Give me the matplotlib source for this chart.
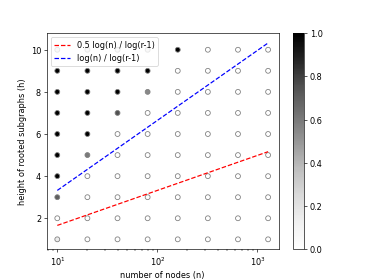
import matplotlib
matplotlib.use('Agg')
import matplotlib.pyplot as plt
import numpy as np

# number of nodes and heights
nodes = [10, 20, 40, 80, 160, 320, 640, 1280]
heights = [1, 2, 3, 4, 5, 6, 7, 8, 9, 10]

# fraction per height (rows) and node count (columns)
frac = [
    [0.15, 0, 0, 0, 0, 0, 0, 0],
    [0, 0, 0, 0, 0, 0, 0, 0],
    [0.7, 0, 0, 0, 0, 0, 0, 0],
    [1, 0, 0, 0, 0, 0, 0, 0],
    [1, 0.6, 0, 0, 0, 0, 0, 0],
    [1, 1, 0, 0, 0, 0, 0, 0],
    [1, 1, 0.75, 0, 0, 0, 0, 0],
    [1, 1, 1, 0.55, 0, 0, 0, 0],
    [1, 1, 1, 1, 0, 0, 0, 0],
    [0.2, 0.2, 0.2, 0.2, 1, 0, 0, 0],
]
r = 3


def main():
    fig = plt.figure(figsize=(6.4, 4.8), dpi=58.44)

    xs, ys, cs = [], [], []
    for i, h in enumerate(heights):
        for j, n in enumerate(nodes):
            xs.append(n)
            ys.append(h)
            cs.append(frac[i][j])

    sc = plt.scatter(xs, ys, c=cs, cmap='Greys', vmin=0, vmax=1, edgecolors='gray')

    n = np.array(nodes)
    plt.plot(n, 0.5 * np.log(n) / np.log(r - 1), 'r--', label='0.5 log(n) / log(r-1)')
    plt.plot(n, np.log(n) / np.log(r - 1), 'b--', label='log(n) / log(r-1)')

    plt.xscale('log')
    plt.xlabel('number of nodes (n)')
    plt.ylabel('height of rooted subgraphs (h)')
    plt.legend(loc='upper left')
    plt.colorbar(sc)

    plt.savefig('out.png', dpi=58.44)


main()
